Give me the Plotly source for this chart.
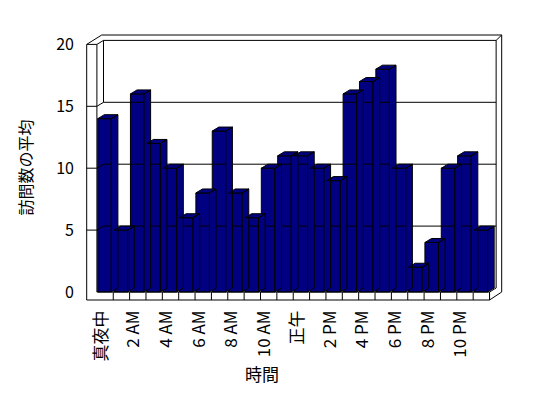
import plotly.graph_objects as go

# ---- data ----
hours = list(range(24))
avg_visits = [14, 5, 16, 12, 10, 6, 8, 13, 8, 6, 10, 11,
              11, 10, 9, 16, 17, 18, 10, 2, 4, 10, 11, 5]
tick_hours = [0, 2, 4, 6, 8, 10, 12, 14, 16, 18, 20, 22]
tick_labels = ["真夜中", "2 AM", "4 AM", "6 AM", "8 AM", "10 AM",
               "正午", "2 PM", "4 PM", "6 PM", "8 PM", "10 PM"]
y_ticks = [0, 5, 10, 15, 20]
x_title = "時間"
y_title = "訪問数の平均"

# ---- layout constants (page pixels; page body has an 8px margin) ----
OFF = 8
W, H = 548 - OFF, 398 - OFF
X0, PX = 96.9, 16.36      # page px of category boundary 0, px per category
Y0, PY = 292.0, 12.38     # page px of value 0, px per unit
PL, PR, PT, PB = 83, 505, 32, 303  # plot area in page px


def xd(px):
    return (px - X0) / PX - 0.5


def yd(py):
    return (Y0 - py) / PY


DX = 6.6 / PX   # depth offset in category units
DY = 4.0 / PY   # depth offset in value units
NAVY = "#000080"
FONT = "Noto Sans CJK JP"

xl_out = xd(86.7)      # outer left wall
x_in = -0.5            # inner left (front)
x_right = len(hours) - 0.5
x_out_r = xd(501.7)
y_bot = yd(300)
y_top_out = yd(35)
ymax = 20

fig = go.Figure()

# ---- walls / floor / grid as one line trace ----
wx, wy = [], []


def seg(pts):
    for p in pts:
        wx.append(p[0])
        wy.append(p[1])
    wx.append(None)
    wy.append(None)


# left wall
seg([(xl_out, y_bot), (xl_out, ymax), (x_in, ymax), (x_in, 0)])
seg([(xl_out, ymax), (xd(101.7), y_top_out), (x_out_r, y_top_out),
     (x_out_r, 0)])
seg([(x_in, ymax), (x_in + DX, ymax + DY), (x_right + DX, ymax + DY),
     (x_out_r, y_top_out)])
seg([(x_in + DX, ymax + DY), (x_in + DX, 15 + DY)])
seg([(x_right + DX, ymax + DY), (x_right + DX, DY)])
# floor
seg([(xl_out, y_bot), (x_right, y_bot), (x_out_r, 0)])
seg([(x_right, y_bot), (x_right, 0), (x_right + DX, DY)])
seg([(x_in, 0), (x_right, 0)])
for k in range(1, len(hours) + 1):
    seg([(k - 0.5, y_bot), (k - 0.5, 0)])
# grid + front ticks
for v in y_ticks[1:-1]:
    seg([(xl_out, v), (x_in, v), (x_in + DX, v + DY), (x_right + DX, v + DY)])

fig.add_trace(go.Scatter(x=wx, y=wy, mode="lines",
                         line=dict(color="black", width=1),
                         hoverinfo="skip", showlegend=False))

# ---- bar top & side faces ----
A, B = 0.05, 0.88
fx, fy = [], []
for h, v in zip(hours, avg_visits):
    l = h - 0.5 + A
    r = h - 0.5 + B
    # side
    fx += [r, r + DX, r + DX, r, r, None]
    fy += [v, v + DY, DY, 0, v, None]
    # top
    fx += [l, l + DX, r + DX, r, l, None]
    fy += [v, v + DY, v + DY, v, v, None]
fig.add_trace(go.Scatter(x=fx, y=fy, mode="lines", fill="toself",
                         fillcolor=NAVY, line=dict(color="black", width=1),
                         hoverinfo="skip", showlegend=False))

# ---- bar front faces ----
fig.add_trace(go.Bar(x=hours, y=avg_visits, offset=-0.5 + A, width=B - A,
                     marker=dict(color=NAVY, line=dict(color="black", width=1)),
                     showlegend=False))

plot_w = PR - PL
plot_h = PB - PT
fig.update_layout(
    width=W, height=H,
    margin=dict(l=PL - OFF, r=548 - PR, t=PT - OFF, b=398 - PB,
                autoexpand=False),
    paper_bgcolor="white", plot_bgcolor="rgba(0,0,0,0)",
    font=dict(family=FONT, color="black", size=15),
    showlegend=False,
    annotations=[dict(
        text=x_title, showarrow=False, xref="paper", yref="paper",
        x=(262 - PL) / plot_w, y=(PB - 373) / plot_h,
        xanchor="center", yanchor="middle",
        font=dict(size=17, family=FONT, color="black"),
    )],
)
fig.update_xaxes(
    range=[xd(PL), xd(PR)], automargin=False,
    tickmode="array", tickvals=[t - 0.25 for t in tick_hours],
    ticktext=tick_labels, tickangle=-90, ticks="",
    showgrid=False, zeroline=False, showline=False,
    tickfont=dict(size=17, family=FONT, color="black"),
    ticklabelstandoff=3,
)
fig.update_yaxes(
    range=[yd(PB), yd(PT)], automargin=False,
    tickmode="array", tickvals=y_ticks, ticks="",
    showgrid=False, zeroline=False, showline=False,
    tickfont=dict(size=16, family=FONT),
    ticklabelstandoff=8,
    title=dict(text=y_title, font=dict(size=16, family=FONT), standoff=19),
)

fig.write_html("out.html")
